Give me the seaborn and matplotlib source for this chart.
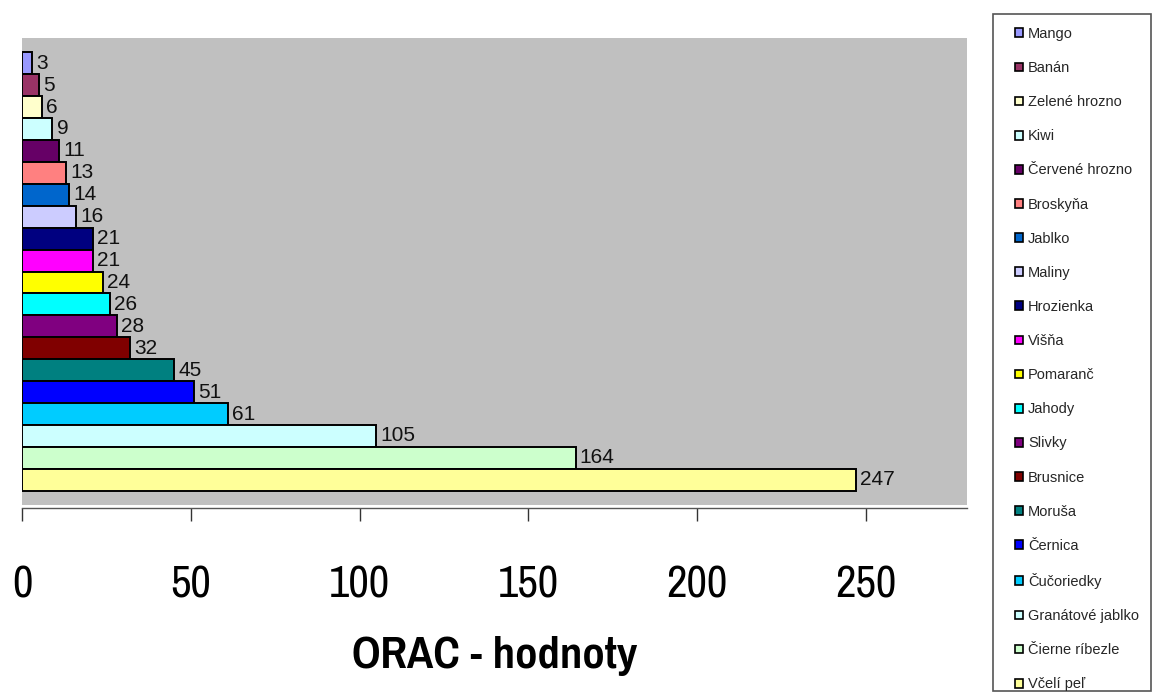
import matplotlib
matplotlib.use("Agg")
import matplotlib.pyplot as plt
from matplotlib import font_manager
from matplotlib.patches import Patch, Rectangle
import seaborn as sns
import pandas as pd

# ORAC values per fruit, listed top to bottom
fruits = ["Mango", "Banán", "Zelené hrozno", "Kiwi", "Červené hrozno", "Broskyňa",
          "Jablko", "Maliny", "Hrozienka", "Višňa", "Pomaranč", "Jahody", "Slivky",
          "Brusnice", "Moruša", "Černica", "Čučoriedky", "Granátové jablko",
          "Čierne ríbezle", "Včelí peľ"]
orac = [3, 5, 6, 9, 11, 13, 14, 16, 21, 21, 24, 26, 28, 32, 45, 51, 61, 105, 164, 247]
colors = ["#9999FF", "#993366", "#FFFFCC", "#CCFFFF", "#660066", "#FF8080",
          "#0066CC", "#CCCCFF", "#000080", "#FF00FF", "#FFFF00", "#00FFFF", "#800080",
          "#800000", "#008080", "#0000FF", "#00CCFF", "#CCFFFF", "#CCFFCC", "#FFFF99"]
x_ticks = [0, 50, 100, 150, 200, 250]
x_label = "ORAC - hodnoty"


def pick_font(names):
    for name in names:
        try:
            font_manager.findfont(font_manager.FontProperties(family=name),
                                  fallback_to_default=False)
            return name
        except Exception:
            continue
    return "DejaVu Sans"


sns.set_theme(style="white")
base_font = pick_font(["Liberation Sans", "Arimo", "DejaVu Sans"])
narrow_font = pick_font(["Liberation Sans Narrow", "Arial Narrow", "Pragati Narrow",
                         "Archivo Narrow", "PT Sans Narrow", "Roboto Condensed",
                         "IBM Plex Sans Condensed", base_font])
plt.rcParams["font.family"] = [narrow_font, base_font, "DejaVu Sans"]

W, H = 1155, 693
fig = plt.figure(figsize=(W / 100, H / 100), dpi=100)
ax = fig.add_axes([22 / W, (H - 505) / H, (967 - 22) / W, (505 - 38) / H])
ax.set_facecolor("#C0C0C0")

df = pd.DataFrame({"fruit": fruits, "orac": orac})
sns.barplot(data=df, x="orac", y="fruit", hue="fruit", palette=colors,
            order=fruits, hue_order=fruits, width=1.0, dodge=False, saturation=1,
            edgecolor="black", linewidth=1.4, legend=False, ax=ax)

for cont in ax.containers:
    ax.bar_label(cont, padding=3, fontsize=15, color="#111111",
                 family=[base_font, "DejaVu Sans"])

ax.set_xlim(0, 280)
ax.set_ylim(len(fruits) - 0.5 + 0.65, -0.5 - 0.65)
ax.set_yticks([])
ax.set_ylabel("")
ax.set_xticks(x_ticks)
ax.tick_params(axis="x", direction="out", length=9.5, width=1, color="#333333",
               pad=32, bottom=True, labelsize=35, labelcolor="black",
               labelfontfamily=narrow_font)
ax.set_xlabel(x_label, fontsize=35, fontweight="bold", color="black",
              family=[narrow_font, base_font], labelpad=22)

for side in ["top", "right", "left"]:
    ax.spines[side].set_visible(False)
ax.spines["bottom"].set_position(("outward", 2))
ax.spines["bottom"].set_color("#555555")
ax.spines["bottom"].set_linewidth(1)

# legend box on the right
box = Rectangle((993 / W, (H - 691) / H), (1151 - 993) / W, (691 - 14) / H,
                transform=fig.transFigure, facecolor="white", edgecolor="#555555",
                linewidth=1.2)
fig.patches.append(box)

handles = [Patch(facecolor=c, edgecolor="black", linewidth=1.2) for c in colors]
fs = 10.5
fig.legend(handles, fruits, loc="upper left",
           bbox_to_anchor=(1015 / W, (H - 27) / H), frameon=False,
           prop={"family": [base_font, "DejaVu Sans"], "size": fs},
           handlelength=0.55, handleheight=0.55, handletextpad=0.35,
           labelspacing=1.38, borderpad=0, borderaxespad=0)

fig.savefig("out.png", dpi=100)
